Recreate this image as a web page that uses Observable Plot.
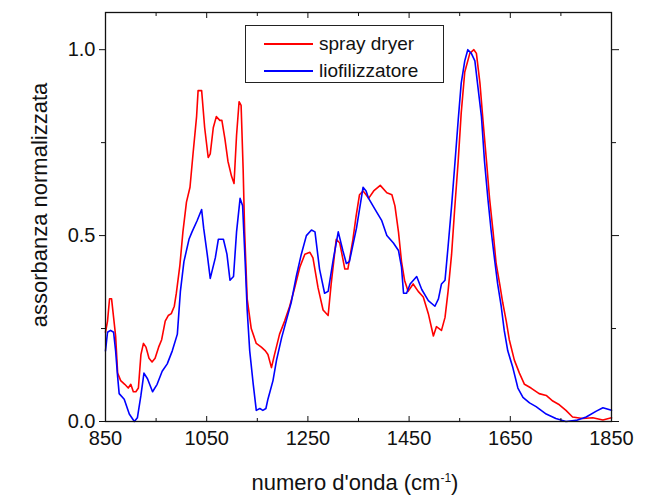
<!DOCTYPE html>
<html>
<head>
<meta charset="utf-8">
<script src="https://cdn.jsdelivr.net/npm/d3@7"></script>
<script src="https://cdn.jsdelivr.net/npm/@observablehq/plot@0.6"></script>
<style>
  html, body { margin: 0; padding: 0; background: #fff; }
  #wrap { position: relative; width: 648px; height: 500px; font-family: "Liberation Sans", Arial, sans-serif; }
  #chart { position: absolute; left: 0; top: 0; }
  .xlab { position: absolute; left: 0; width: 710px; top: 470px; text-align: center; font-size: 22px; color: #111; white-space: nowrap; }
  .ylab { position: absolute; left: 40px; top: 205px; transform: translate(-50%, -50%) rotate(-90deg); font-size: 22px; color: #111; white-space: nowrap; }
  .legend { position: absolute; left: 245px; top: 25px; width: 197px; height: 56px; border: 1.2px solid #222; background: #fff; font-size: 19px; color: #111; }
  .legend .row { position: absolute; left: 0; height: 24px; display: flex; align-items: center; }
  .legend .sw { display: inline-block; width: 49px; height: 0; margin-left: 18px; margin-right: 6px; }
  sup { font-size: 12px; }
</style>
</head>
<body>
<div id="wrap">
  <div id="chart"></div>
  <div class="xlab">numero d'onda (cm<sup>-1</sup>)</div>
  <div class="ylab">assorbanza normalizzata</div>
  <div class="legend" id="legend"></div>
</div>
<script>
// Series names and colours
const seriesNames = ["spray dryer", "liofilizzatore"];
const seriesColors = ["#ff0000", "#0000ff"];

// Tick values
const xMajorTicks = [850, 1050, 1250, 1450, 1650, 1850];
const xMinorTicks = [950, 1150, 1350, 1550, 1750];
const yMajorTicks = [0, 0.5, 1.0];
const yMinorTicks = [0.25, 0.75];

// spray dryer (red): wavenumber, normalised absorbance
const sprayX = [850,854,858,862,866,870,874,880,888,895,900,905,910,915,920,925,930,936,942,948,955,961,968,974,980,986,990,997,1003,1010,1017,1023,1030,1033,1040,1046,1053,1057,1063,1069,1076,1080,1086,1092,1099,1104,1109,1114,1118,1122,1125,1130,1138,1148,1158,1166,1171,1178,1184,1194,1204,1214,1224,1234,1244,1254,1260,1270,1280,1290,1296,1306,1313,1323,1329,1339,1345,1352,1359,1365,1370,1380,1393,1406,1416,1422,1429,1435,1441,1448,1458,1468,1478,1488,1498,1504,1514,1521,1527,1534,1540,1547,1553,1560,1570,1578,1583,1590,1596,1603,1609,1616,1622,1629,1635,1642,1648,1658,1668,1678,1691,1707,1721,1734,1747,1760,1773,1793,1813,1833,1850];
const sprayY = [0.24,0.27,0.33,0.33,0.28,0.23,0.13,0.11,0.10,0.09,0.10,0.08,0.08,0.09,0.18,0.21,0.20,0.17,0.16,0.17,0.20,0.22,0.27,0.285,0.29,0.31,0.345,0.42,0.51,0.59,0.63,0.72,0.82,0.89,0.89,0.79,0.71,0.72,0.79,0.82,0.81,0.81,0.76,0.70,0.66,0.64,0.77,0.86,0.85,0.68,0.51,0.33,0.25,0.21,0.20,0.19,0.18,0.145,0.18,0.235,0.27,0.31,0.36,0.415,0.45,0.455,0.44,0.36,0.30,0.285,0.37,0.49,0.48,0.41,0.41,0.49,0.55,0.61,0.62,0.61,0.60,0.62,0.635,0.615,0.61,0.58,0.51,0.43,0.38,0.35,0.37,0.35,0.335,0.29,0.23,0.255,0.245,0.28,0.35,0.45,0.57,0.70,0.83,0.94,0.99,1.0,0.99,0.91,0.81,0.70,0.60,0.51,0.425,0.37,0.32,0.27,0.22,0.165,0.13,0.10,0.09,0.075,0.07,0.055,0.045,0.03,0.012,0.008,0.01,0.004,0.01];

// liofilizzatore (blue)
const lioX = [850,854,860,866,870,874,877,887,897,907,913,920,926,933,943,952,962,972,982,992,998,1005,1015,1021,1031,1040,1044,1051,1057,1067,1073,1083,1090,1096,1103,1109,1116,1121,1126,1130,1135,1142,1148,1155,1161,1167,1171,1181,1188,1198,1207,1217,1227,1237,1247,1257,1264,1273,1283,1290,1300,1310,1319,1326,1332,1346,1359,1365,1370,1383,1396,1406,1419,1429,1435,1439,1445,1452,1465,1475,1488,1501,1508,1514,1521,1527,1534,1540,1547,1553,1560,1566,1573,1580,1586,1593,1599,1606,1612,1619,1625,1632,1638,1645,1655,1665,1675,1688,1701,1721,1740,1760,1780,1800,1820,1833,1850];
const lioY = [0.19,0.24,0.245,0.24,0.19,0.12,0.075,0.06,0.02,0.0,0.01,0.07,0.13,0.115,0.08,0.10,0.135,0.155,0.19,0.235,0.35,0.43,0.49,0.51,0.54,0.57,0.52,0.45,0.385,0.44,0.49,0.49,0.45,0.38,0.39,0.51,0.60,0.58,0.43,0.30,0.19,0.10,0.03,0.035,0.03,0.035,0.06,0.11,0.165,0.225,0.27,0.32,0.39,0.45,0.50,0.515,0.51,0.41,0.345,0.35,0.435,0.51,0.46,0.425,0.43,0.52,0.63,0.62,0.60,0.57,0.54,0.50,0.48,0.46,0.415,0.345,0.345,0.37,0.39,0.355,0.325,0.31,0.33,0.37,0.38,0.47,0.58,0.685,0.81,0.91,0.97,1.0,0.99,0.97,0.90,0.82,0.70,0.595,0.515,0.435,0.37,0.31,0.245,0.19,0.145,0.09,0.065,0.05,0.04,0.02,0.008,0.0,0.003,0.012,0.028,0.037,0.03];

const spray = sprayX.map((x, i) => ({x, y: sprayY[i]}));
const lio = lioX.map((x, i) => ({x, y: lioY[i]}));

const blank = () => "";
const chart = Plot.plot({
  width: 648,
  height: 500,
  marginLeft: 105,
  marginRight: 37,
  marginTop: 12,
  marginBottom: 79,
  style: {fontFamily: "Liberation Sans, Arial, sans-serif", fontSize: "20px", color: "#111", background: "#fff"},
  x: {domain: [850, 1850]},
  y: {domain: [0, 1.1]},
  marks: [
    Plot.line(spray, {x: "x", y: "y", stroke: seriesColors[0], strokeWidth: 1.6}),
    Plot.line(lio, {x: "x", y: "y", stroke: seriesColors[1], strokeWidth: 1.6}),
    Plot.frame({stroke: "#111", strokeWidth: 1.3}),
    // bottom axis: labels + inward ticks
    Plot.axisX({anchor: "bottom", ticks: xMajorTicks, tickSize: 0, tickPadding: 9, tickFormat: d => String(d), label: null}),
    Plot.axisX({anchor: "bottom", ticks: xMajorTicks, tickSize: -5, tickFormat: blank, label: null}),
    Plot.axisX({anchor: "bottom", ticks: xMinorTicks, tickSize: -3, tickFormat: blank, label: null}),
    // top axis: inward ticks
    Plot.axisX({anchor: "top", ticks: xMajorTicks, tickSize: -5, tickFormat: blank, label: null}),
    Plot.axisX({anchor: "top", ticks: xMinorTicks, tickSize: -3, tickFormat: blank, label: null}),
    // left axis: outward ticks + labels
    Plot.axisY({anchor: "left", ticks: yMajorTicks, tickSize: 6, tickPadding: 4, tickFormat: d3.format(".1f"), label: null}),
    Plot.axisY({anchor: "left", ticks: yMinorTicks, tickSize: 4, tickFormat: blank, label: null}),
    // right axis: outward ticks
    Plot.axisY({anchor: "right", ticks: yMajorTicks, tickSize: 7, tickFormat: blank, label: null}),
    Plot.axisY({anchor: "right", ticks: yMinorTicks, tickSize: 4, tickFormat: blank, label: null})
  ]
});
document.getElementById("chart").appendChild(chart);

// legend
const legend = document.getElementById("legend");
seriesNames.forEach((name, i) => {
  const row = document.createElement("div");
  row.className = "row";
  row.style.top = (i === 0 ? 6 : 33) + "px";
  const sw = document.createElement("span");
  sw.className = "sw";
  sw.style.borderTop = "2px solid " + seriesColors[i];
  const t = document.createElement("span");
  t.textContent = name;
  row.appendChild(sw);
  row.appendChild(t);
  legend.appendChild(row);
});
</script>
</body>
</html>
